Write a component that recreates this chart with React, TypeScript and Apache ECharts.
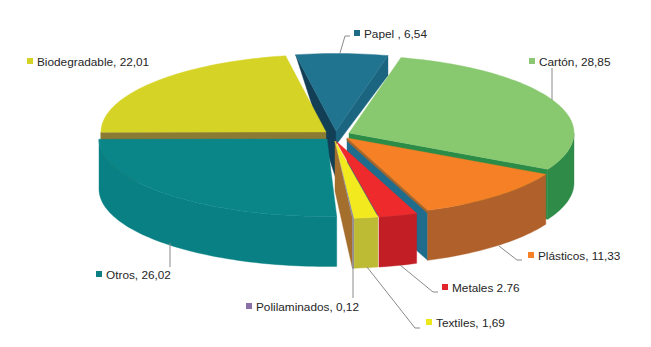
import React, { useEffect, useRef } from "react";
import * as echarts from "echarts";

const categories = ["Papel", "Cartón", "Plásticos", "Metales", "Textiles", "Polilaminados", "Otros", "Biodegradable"];
const values = [6.54, 28.85, 11.33, 2.76, 1.69, 0.12, 26.02, 22.01];
const labelTexts = ["Papel , 6,54", "Cartón, 28,85", "Plásticos, 11,33", "Metales 2.76", "Textiles, 1,69", "Polilaminados, 0,12", "Otros, 26,02", "Biodegradable, 22,01"];
const drawOrder = [0, 7, 1, 2, 5, 4, 3, 6];

const START_ANGLE = 100.35;
const DEPTH = 50;
const RY = 77.5;

type Side = { color: string; corner: number; apex: number };
type Look = {
  ax: number; ay: number; rx: number; top: string; wall: string; legend: string;
  trimStart?: number; start?: Side; end?: Side; endEdge?: { color: string; depth: number };
};

const looks: Look[] = [
  { ax: 336, ay: 131, rx: 225, top: "#21748F", wall: "#1D607A", legend: "#1F6B85",
    start: { color: "#123F55", corner: 0, apex: 48 }, end: { color: "#1C6581", corner: 20, apex: 14 } },
  { ax: 349, ay: 133, rx: 225, top: "#88C86E", wall: "#2F8C48", legend: "#8CC874",
    end: { color: "#2B8C47", corner: DEPTH, apex: DEPTH } },
  { ax: 347, ay: 138, rx: 225, top: "#F58025", wall: "#B0602A", legend: "#F58025",
    end: { color: "#1F6C8C", corner: DEPTH, apex: DEPTH }, endEdge: { color: "#A5652C", depth: 3 } },
  { ax: 336, ay: 141, rx: 225, top: "#EE2A2C", wall: "#C21E26", legend: "#E0262B" },
  { ax: 335, ay: 141, rx: 225, top: "#F2E91F", wall: "#BDBB33", legend: "#EDE81E" },
  { ax: 335, ay: 141, rx: 225, top: "#8D8A9C", wall: "#8D8A9C", legend: "#8A6FA8",
    end: { color: "#A46E2C", corner: DEPTH, apex: DEPTH } },
  { ax: 327, ay: 139, rx: 228, top: "#0A8688", wall: "#088084", legend: "#0C7F85", trimStart: 2 },
  { ax: 326, ay: 132, rx: 225, top: "#D6D327", wall: "#8B7A33", legend: "#D6D327",
    start: { color: "#8B7A33", corner: DEPTH, apex: DEPTH } },
];

// legend marker position and text origin for each label
const labelPlaces: [number, number][] = [[354, 34], [529, 62], [528, 256], [442, 288], [426, 323], [246, 307], [96, 275], [27, 62]];
const leaders: number[][][] = [
  [[340, 53], [345, 36], [350, 36]],
  [[552, 100], [552, 68]],
  [[499, 246], [517, 260], [522, 260]],
  [[400, 265], [433, 292], [438, 292]],
  [[367, 267], [415, 328], [420, 328]],
  [[353, 266], [353, 298]],
  [[170, 243], [170, 267]],
];

const total = values.reduce((s, v) => s + v, 0);
const spans = values.map((_, i) => {
  const before = values.slice(0, i).reduce((s, v) => s + v, 0);
  return [START_ANGLE - (before / total) * 360, START_ANGLE - ((before + values[i]) / total) * 360];
});

function renderSlice(_params: any, api: any) {
  const idx = api.value(0) as number;
  const lk = looks[idx];
  const t0 = spans[idx][0] - (lk.trimStart || 0);
  const t1 = spans[idx][1];
  const pt = (deg: number, drop = 0) => {
    const r = (deg * Math.PI) / 180;
    return [lk.ax + lk.rx * Math.cos(r), lk.ay - RY * Math.sin(r) + drop];
  };
  const arc = (from: number, to: number, drop = 0) => {
    const n = Math.max(2, Math.ceil(Math.abs(from - to) / 1.5));
    return Array.from({ length: n + 1 }, (_, k) => pt(from + ((to - from) * k) / n, drop));
  };
  const poly = (points: number[][], fill: string) => ({
    type: "polygon",
    shape: { points },
    style: { fill, stroke: fill, lineWidth: 0.4 },
    silent: true,
  });
  const apexPt = (drop = 0) => [lk.ax, lk.ay + drop];
  const kids: any[] = [];
  const edge = (deg: number, s: { color: string; corner: number; apex: number }) =>
    poly([apexPt(), pt(deg), pt(deg, s.corner), apexPt(s.apex)], s.color);
  if (lk.start) kids.push(edge(t0, lk.start));
  if (lk.end) kids.push(edge(t1, lk.end));
  if (lk.endEdge) kids.push(edge(t1, { color: lk.endEdge.color, corner: lk.endEdge.depth, apex: lk.endEdge.depth }));
  // outer wall: only the part of the rim that faces the viewer
  let wa = t0;
  let wb = t1;
  wa = Math.min(wa, 0);
  wb = Math.max(wb, -180);
  if (wa > wb) {
    kids.push(poly([...arc(wa, wb), ...arc(wb, wa, DEPTH)], lk.wall));
  }
  kids.push(poly([apexPt(), ...arc(t0, t1)], lk.top));
  return { type: "group", children: kids };
}

export default function App() {
  const ref = useRef<HTMLDivElement>(null);
  useEffect(() => {
    document.body.style.margin = "0";
    const chart = echarts.init(ref.current!, undefined, { renderer: "svg" });
    const graphics: any[] = [];
    leaders.forEach((points) => {
      graphics.push({
        type: "polyline",
        shape: { points },
        style: { stroke: "#8A8A8A", lineWidth: 1, fill: "none" },
        z: 10,
      });
    });
    labelTexts.forEach((text, i) => {
      const [x, y] = labelPlaces[i];
      graphics.push({
        type: "rect",
        shape: { x, y: y - 4, width: 6, height: 6 },
        style: { fill: looks[i].legend },
        z: 10,
      });
      graphics.push({
        type: "text",
        x: x + 10,
        y,
        style: {
          text,
          fill: "#262626",
          font: "11.8px 'Liberation Sans', Arial, sans-serif",
          textAlign: "left",
          textVerticalAlign: "middle",
        },
        z: 10,
      });
    });
    chart.setOption({
      animation: false,
      backgroundColor: "#ffffff",
      series: [
        {
          type: "custom",
          coordinateSystem: "none",
          renderItem: renderSlice,
          data: drawOrder.map((i) => ({ name: categories[i], value: [i, values[i]] })),
          silent: true,
        },
      ],
      graphic: { elements: graphics },
    });
    return () => chart.dispose();
  }, []);
  return <div ref={ref} style={{ width: 651, height: 347 }} />;
}
